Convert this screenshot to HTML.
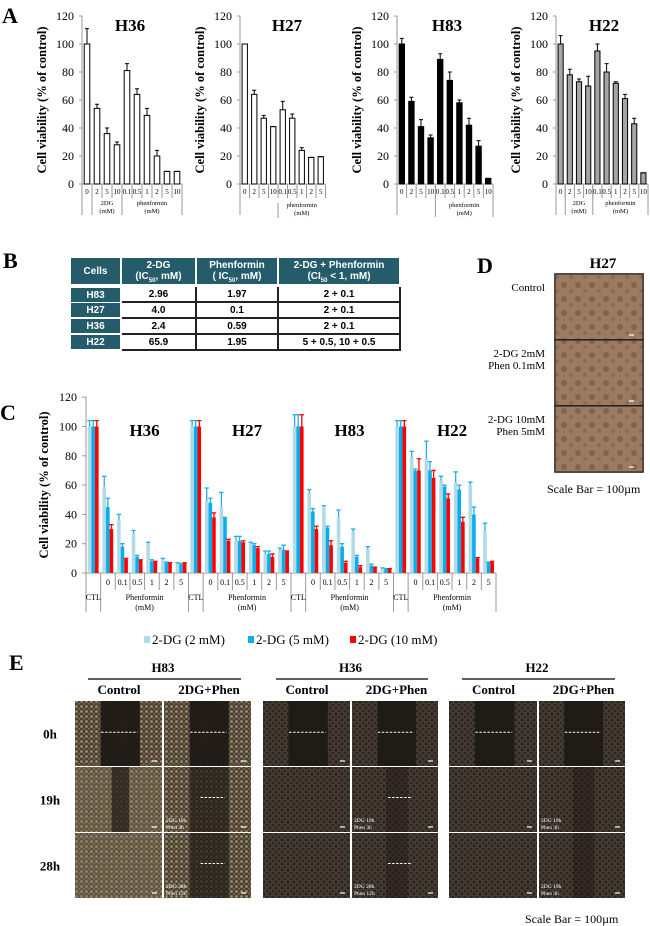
<!DOCTYPE html>
<html><head><meta charset="utf-8">
<style>
html,body{margin:0;padding:0;background:#fff;}
body{width:650px;height:926px;overflow:hidden;position:relative;font-family:"Liberation Serif",serif;}
svg{position:absolute;left:0;top:0;}
.tb{position:absolute;font-family:"Liberation Sans",sans-serif;font-weight:bold;font-size:10px;text-align:center;box-sizing:border-box;display:flex;align-items:center;justify-content:center;line-height:11px;white-space:nowrap;}
.th{background:#245c6b;color:#fff;}
.td{background:#fff;color:#000;border-right:2px solid #222;border-bottom:2px solid #222;}
sub{font-size:6px;line-height:0;}
</style></head>
<body>
<svg id="fig" width="650" height="926" viewBox="0 0 650 926">
<defs>
<pattern id="texA" width="5" height="5" patternUnits="userSpaceOnUse"><rect width="5" height="5" fill="#4a4034"/><circle cx="1.5" cy="1.5" r="1.4" fill="#9c8a6a"/><circle cx="4" cy="3.8" r="1" fill="#7d6d54"/></pattern>
<pattern id="texB" width="6" height="6" patternUnits="userSpaceOnUse"><rect width="6" height="6" fill="#2c2620"/><circle cx="3" cy="3" r="2.2" fill="none" stroke="#5d5245" stroke-width="0.8"/></pattern>
<pattern id="texD" width="14" height="14" patternUnits="userSpaceOnUse"><rect width="14" height="14" fill="#9a7a60"/><circle cx="4" cy="5" r="3" fill="#6e5642"/><circle cx="11" cy="11" r="2" fill="#7c6250"/></pattern>
</defs>
<g id="panelA"></g>
<g id="panelC"></g>
<g id="panelD"></g>
<g id="panelE"></g>
</svg>

<div>
<div class="tb th" style="left:71px;top:258px;width:49px;height:26px;"><span>Cells</span></div>
<div class="tb th" style="left:122px;top:258px;width:73px;height:26px;"><span>2-DG<br>(IC<sub>50</sub>, mM)</span></div>
<div class="tb th" style="left:197px;top:258px;width:80px;height:26px;"><span>Phenformin<br>( IC<sub>50</sub>, mM)</span></div>
<div class="tb th" style="left:279px;top:258px;width:120px;height:26px;"><span>2-DG + Phenformin<br>(CI<sub>50</sub> &lt; 1, mM)</span></div>

<div class="tb th" style="left:71px;top:288px;width:49px;height:14px;"><span>H83</span></div>
<div class="tb td" style="left:122px;top:287px;width:75px;height:16px;"><span>2.96</span></div>
<div class="tb td" style="left:197px;top:287px;width:82px;height:16px;"><span>1.97</span></div>
<div class="tb td" style="left:279px;top:287px;width:122px;height:16px;"><span>2 + 0.1</span></div>

<div class="tb th" style="left:71px;top:303px;width:49px;height:14px;"><span>H27</span></div>
<div class="tb td" style="left:122px;top:303px;width:75px;height:16px;"><span>4.0</span></div>
<div class="tb td" style="left:197px;top:303px;width:82px;height:16px;"><span>0.1</span></div>
<div class="tb td" style="left:279px;top:303px;width:122px;height:16px;"><span>2 + 0.1</span></div>

<div class="tb th" style="left:71px;top:319px;width:49px;height:14px;"><span>H36</span></div>
<div class="tb td" style="left:122px;top:319px;width:75px;height:16px;"><span>2.4</span></div>
<div class="tb td" style="left:197px;top:319px;width:82px;height:16px;"><span>0.59</span></div>
<div class="tb td" style="left:279px;top:319px;width:122px;height:16px;"><span>2 + 0.1</span></div>

<div class="tb th" style="left:71px;top:335px;width:49px;height:14px;"><span>H22</span></div>
<div class="tb td" style="left:122px;top:335px;width:75px;height:16px;"><span>65.9</span></div>
<div class="tb td" style="left:197px;top:335px;width:82px;height:16px;"><span>1.95</span></div>
<div class="tb td" style="left:279px;top:335px;width:122px;height:16px;"><span>5 + 0.5, 10 + 0.5</span></div>
</div>

<script>
// ---- Panel A data ----
const aCats10 = ['0','2','5','10','0.1','0.5','1','2','5','10'];
const aCats9 = ['0','2','5','10','0.1','0.5','1','2','5'];
const aVals36 = [100,54,36,28,81,64,49,20,9,9];
const aErr36 = [111,57,40,30,86,68,54,24,9,9];
const aVals27 = [100,64,47,41,53,47,24,19,19.5];
const aErr27 = [100,67,49,41,59,50,26,19,19.5];
const aVals83 = [100,59,41,33,89,74,58,42,27,4];
const aErr83 = [104,62,46,35,93,80,60,47,31,4];
const aVals22 = [100,78,73,70,95,80,72,61,43,8];
const aErr22 = [106,82,75,77,100,86,73,64,47,8];
const aTicks = [0,20,40,60,80,100,120];

// ---- Panel C data ----
const cGroups = ['H36','H27','H83','H22'];
const cCats = ['CTL','0','0.1','0.5','1','2','5'];
const cLight = [[100,59,36,27,20,9,6],[100,49,45,22,20,13,15],[100,54,45,38,28,16,3],[100,79,78,63,62,60,29]];
const cLightErr = [[104,66,40,29,21,10,7],[104,58,55,25,21,15,17],[108,57,46,43,30,18,3.5],[104,83,90,66,69,62,34]];
const cBlue = [[100,45,18,11,8,7,6],[100,48,38,22,19,13,16],[100,42,31,18,11,5,3],[100,70,70,59,57,40,7.5]];
const cBlueErr = [[104,51,20,12,9,7.5,6.5],[104,51,38,25,20,15,19],[108,44,32,20,12,6,3],[104,71,76,60,60,45,7.5]];
const cRed = [[100,30,9.5,9,8,7,6.5],[100,38,22,21,17,11,15],[100,30,19,7,4,4,3],[100,70,65,51,35,10,7.5]];
const cRedErr = [[104,33,10,9,8,7,7],[104,41,23,22,18,13,15],[108,32,22,8,5,4,3],[104,78,70,54,38,10.5,8]];
const cTicks = [0,20,40,60,80,100,120];
const cLegend = ['2-DG (2 mM)','2-DG (5 mM)','2-DG (10 mM)'];

const NS='http://www.w3.org/2000/svg';
function mk(tag, attrs, parent, txt){
  const el=document.createElementNS(NS,tag);
  for(const k in attrs) el.setAttribute(k,attrs[k]);
  if(txt!==undefined) el.textContent=txt;
  parent.appendChild(el);
  return el;
}
const gA=document.getElementById('panelA');
const gC=document.getElementById('panelC');
const gD=document.getElementById('panelD');
const gE=document.getElementById('panelE');
const SERIF='"Liberation Serif", serif';

let t;
t=mk('text',{x:2,y:23,'font-size':22,'font-weight':'bold','font-family':SERIF},gA,'A');



function drawA(cfg){
  const g=mk('g',{},gA);
  
  
  const y0=184, k=1.4;
  const y=v=>y0-v*k;
  const x0=cfg.axisX, cw=cfg.cw, n=cfg.cats.length;
  let el=mk('line',{x1:x0,y1:16,x2:x0,y2:215,stroke:'#999','stroke-width':1},g);
  
  
  el=mk('line',{x1:x0,y1:y0,x2:x0+n*cw,y2:y0,stroke:'#999','stroke-width':1},g);
  
  
  aTicks.forEach(v=>{
    const tl=mk('text',{x:x0-8,y:y(v)+4,'font-size':12,'text-anchor':'end','font-family':SERIF},g,String(v));
    
    
    mk('line',{x1:x0-3,y1:y(v),x2:x0,y2:y(v),stroke:'#999'},g);
  });
  const yl=mk('text',{x:0,y:0,transform:`translate(${x0-36},100) rotate(-90)`,'font-size':12.5,'font-weight':'bold','text-anchor':'middle','font-family':SERIF},g,'Cell viability (% of control)');
  
  
  const tt=mk('text',{x:cfg.titleX,y:31,'font-size':17,'font-weight':'bold','text-anchor':'middle','font-family':SERIF},g,cfg.title);
  
  
  for(let i=0;i<n;i++){
    const bx=x0+i*cw+cw*0.22, bw=cw*0.56, cx=bx+bw/2;
    const b=mk('rect',{x:bx,y:y(cfg.vals[i]),width:bw,height:cfg.vals[i]*k,fill:cfg.fill,stroke:'#000','stroke-width':1},g);
    
    
    const e=mk('path',{d:`M${cx},${y(cfg.vals[i])}V${y(cfg.errs[i])}M${cx-2},${y(cfg.errs[i])}H${cx+2}`,stroke:'#000','stroke-width':1,fill:'none'},g);
    
    
    const cl=mk('text',{x:x0+(i+0.5)*cw,y:194,'font-size':7,'text-anchor':'middle','font-family':SERIF},g,cfg.cats[i]);
    
    
    mk('line',{x1:x0+(i+1)*cw,y1:y0,x2:x0+(i+1)*cw,y2:198,stroke:'#999'},g);
  }
  cfg.lines.forEach(l=>{
    mk('line',{x1:x0+l[0]*cw,y1:l[1],x2:x0+l[0]*cw,y2:l[2],stroke:'#999'},g);
  });
  cfg.groups.forEach(gr=>{
    const cx=x0+(gr[0]+gr[1])/2*cw;
    const a=mk('text',{x:cx,y:gr[4]||205,'font-size':6.5,'text-anchor':'middle','font-family':SERIF},g,gr[2]);
    
    
    const b=mk('text',{x:cx,y:(gr[4]||205)+8,'font-size':6.5,'text-anchor':'middle','font-family':SERIF},g,gr[3]);
    
    
  });
}
drawA({name:'h36',axisX:82,cw:10,cats:aCats10,vals:aVals36,errs:aErr36,fill:'#fff',title:'H36',titleX:130,
  lines:[[1,184,215],[4,184,215],[10,184,215]],groups:[[1,4,'2DG','(mM)'],[4,10,'phenformin','(mM)']]});
drawA({name:'h27',axisX:240,cw:9.5,cats:aCats9,vals:aVals27,errs:aErr27,fill:'#fff',title:'H27',titleX:287,
  lines:[[4,203,218]],groups:[[4,9,'phenformin','(mM)',207]]});
drawA({name:'h83',axisX:397,cw:9.6,cats:aCats10,vals:aVals83,errs:aErr83,fill:'#000',title:'H83',titleX:447,
  lines:[[4,184,217],[10,184,217]],groups:[[4,10,'phenformin','(mM)',207]]});
drawA({name:'h22',axisX:556,cw:9.2,cats:aCats10,vals:aVals22,errs:aErr22,fill:'#a5a5a5',title:'H22',titleX:604,
  lines:[[1,184,215],[4,184,215],[10,184,215]],groups:[[1,4,'2DG','(mM)'],[4,10,'phenformin','(mM)']]});

t=mk('text',{x:3,y:268,'font-size':22,'font-weight':'bold','font-family':SERIF},gA,'B');



// ---- Panel C ----
(function(){
  const g=gC;
  const x0=86, y0=573, k=1.465, cw=410/28;
  const y=v=>y0-v*k;
  let el=mk('text',{x:0,y:420,'font-size':22,'font-weight':'bold','font-family':SERIF},g,'C');
  
  
  el=mk('line',{x1:x0,y1:397,x2:x0,y2:612,stroke:'#999'},g);
  
  
  el=mk('line',{x1:x0,y1:y0,x2:x0+28*cw,y2:y0,stroke:'#999'},g);
  
  
  cTicks.forEach(v=>{
    const tl=mk('text',{x:x0-9,y:y(v)+4,'font-size':12,'text-anchor':'end','font-family':SERIF},g,String(v));
    
    
    mk('line',{x1:x0-4,y1:y(v),x2:x0,y2:y(v),stroke:'#999'},g);
  });
  const yl=mk('text',{x:0,y:0,transform:`translate(${x0-38},485) rotate(-90)`,'font-size':12.5,'font-weight':'bold','text-anchor':'middle','font-family':SERIF},g,'Cell viability (% of control)');
  
  
  const series=[[cLight,cLightErr,'#b3dbe7','#22aee6','light'],[cBlue,cBlueErr,'#08aeec','#22aee6','blue'],[cRed,cRedErr,'#ff0000','#ff0000','red']];
  cGroups.forEach((gn,gi)=>{
    const gx=x0+gi*7*cw;
    const tt=mk('text',{x:gx+4*cw,y:436,'font-size':17,'font-weight':'bold','text-anchor':'middle','font-family':SERIF},g,gn);
    
    
    cCats.forEach((c,ci)=>{
      const cx0=gx+ci*cw;
      series.forEach((s,si)=>{
        const v=s[0][gi][ci], e=s[1][gi][ci];
        const bw=3.6, bx=cx0+1.8+si*bw, mx=bx+bw/2;
        const b=mk('rect',{x:bx,y:y(v),width:bw,height:v*k,fill:s[2]},g);
        
        
        const er=mk('path',{d:`M${mx},${y(v)}V${y(e)}M${mx-2.2},${y(e)}H${mx+2.2}`,stroke:s[3],'stroke-width':1.3,fill:'none'},g);
        
        
      });
      if(ci>0){
        const tl=mk('text',{x:cx0+cw/2,y:585,'font-size':8,'text-anchor':'middle','font-family':SERIF},g,c);
        
        
      }
      const last=(ci===0||ci===6);
      mk('line',{x1:cx0+cw,y1:y0,x2:cx0+cw,y2:last?612:590,stroke:'#999'},g);
    });
    let a=mk('text',{x:gx+cw/2,y:600,'font-size':8,'text-anchor':'middle','font-family':SERIF},g,'CTL');
    
    
    a=mk('text',{x:gx+4*cw,y:600,'font-size':8,'text-anchor':'middle','font-family':SERIF},g,'Phenformin');
    
    
    a=mk('text',{x:gx+4*cw,y:610,'font-size':8,'text-anchor':'middle','font-family':SERIF},g,'(mM)');
    
    
  });
  const lx=[144,248,350], lc=['#b3dbe7','#08aeec','#ff0000'];
  cLegend.forEach((l,i)=>{
    const sq=mk('rect',{x:lx[i],y:636,width:6,height:7,fill:lc[i]},g);
    
    
    const lt=mk('text',{x:lx[i]+8,y:644,'font-size':13,'font-family':SERIF},g,l);
    
    
  });
})();

// ---- Panel D ----
(function(){
  const g=gD;
  let el=mk('text',{x:477,y:273,'font-size':22,'font-weight':'bold','font-family':SERIF},g,'D');
  
  
  el=mk('text',{x:603,y:268,'font-size':15,'font-weight':'bold','text-anchor':'middle','font-family':SERIF},g,'H27');
  
  
  const tops=[274,340,406];
  const labs=[['Control'],['2-DG 2mM','Phen 0.1mM'],['2-DG 10mM','Phen 5mM']];
  tops.forEach((ty,i)=>{
    const r=mk('rect',{x:555,y:ty,width:88,height:66,fill:'url(#texD)',stroke:'#111','stroke-width':1.5},g);
    
    
    mk('rect',{x:555,y:ty,width:88,height:66,fill:'#a07e64',opacity:0.35},g);
    mk('line',{x1:629,y1:ty+61,x2:634,y2:ty+61,stroke:'#fff','stroke-width':1.2},g);
    labs[i].forEach((s,j)=>{
      const tl=mk('text',{x:545,y:ty+17+j*12,'font-size':11,'text-anchor':'end','font-family':SERIF},g,s);
      
      
    });
  });
  el=mk('text',{x:547,y:493,'font-size':12,'font-family':SERIF},g,'Scale Bar = 100µm');
  
  
})();

// ---- Panel E ----
(function(){
  const g=gE;
  let el=mk('text',{x:9,y:670,'font-size':22,'font-weight':'bold','font-family':SERIF},g,'E');
  
  
  const blocks=[['H83',75,163,251,'texA'],['H36',263,351,438,'texB'],['H22',449,538,625,'texB']];
  const rows=[[701,766],[767,832],[833,898]];
  const rl=['0h','19h','28h'];
  rl.forEach((r,i)=>{
    const tl=mk('text',{x:50,y:(rows[i][0]+rows[i][1])/2+5,'font-size':13,'font-weight':'bold','text-anchor':'middle','font-family':SERIF},g,r);
    
    
  });
  const notes={'H83':[null,['2DG 19h','Phen 3h'],['2DG 28h','Phen 12h']],'H36':[null,['2DG 19h','Phen 3h'],['2DG 28h','Phen 12h']],'H22':[null,['2DG 19h','Phen 3h'],['2DG 19h','Phen 3h']]};
  blocks.forEach(b=>{
    const [name,l,m,r,tex]=b;
    let tt=mk('text',{x:(l+r)/2,y:672,'font-size':13,'font-weight':'bold','text-anchor':'middle','font-family':SERIF},g,name);
    
    
    mk('line',{x1:l+13,y1:679,x2:r-10,y2:679,stroke:'#000','stroke-width':1.2},g);
    tt=mk('text',{x:(l+m)/2,y:694,'font-size':13,'font-weight':'bold','text-anchor':'middle','font-family':SERIF},g,'Control');
    
    
    tt=mk('text',{x:(m+r)/2+2,y:694,'font-size':13,'font-weight':'bold','text-anchor':'middle','font-family':SERIF},g,'2DG+Phen');
    
    
    [[l,m-1],[m+1,r]].forEach((c,ci)=>{
      rows.forEach((rw,ri)=>{
        const w=c[1]-c[0], h=rw[1]-rw[0];
        const im=mk('rect',{x:c[0],y:rw[0],width:w,height:h,fill:'url(#'+tex+')'},g);
        
        
        let gap=0;
        if(ri===0) gap=0.45;
        else if(ci===1) gap=(name==='H83')?0.45:0.25;
        else if(name==='H83' && ri===1) gap=0.2;
        if(name==='H83' && ri>0 && ci===0) mk('rect',{x:c[0],y:rw[0],width:w,height:h,fill:'#8a7a60',opacity:0.35},g);
        if(gap>0) mk('rect',{x:c[0]+w*(0.5-gap/2+0.02),y:rw[0],width:w*gap,height:h,fill:'#1e1915',opacity:ri===0?0.95:(name==='H83'?0.7:0.45)},g);
        if(ri===0 || ci===1){
          const dw=(ri===0)?w*0.42:w*0.28, dx=c[0]+w*(ri===0?0.3:0.42), dy=rw[0]+h*(ri===0?0.48:0.47);
          if(ri===0 || name!=='H22') mk('line',{x1:dx,y1:dy,x2:dx+dw,y2:dy,stroke:'#fff','stroke-width':1,'stroke-dasharray':'2.5,1.5'},g);
        }
        mk('line',{x1:c[0]+w-10,y1:rw[1]-5,x2:c[0]+w-5,y2:rw[1]-5,stroke:'#fff','stroke-width':1.2},g);
        const nt=notes[name][ri];
        if(ci===1 && nt){
          nt.forEach((s,si)=>{
            const tl=mk('text',{x:c[0]+2,y:rw[1]-10+si*7,'font-size':5.5,fill:'#fff','font-family':SERIF},g,s);
            
            
          });
        }
      });
    });
  });
  el=mk('text',{x:525,y:923,'font-size':12,'font-family':SERIF},g,'Scale Bar = 100µm');
  
  
})();
</script>
</body></html>
